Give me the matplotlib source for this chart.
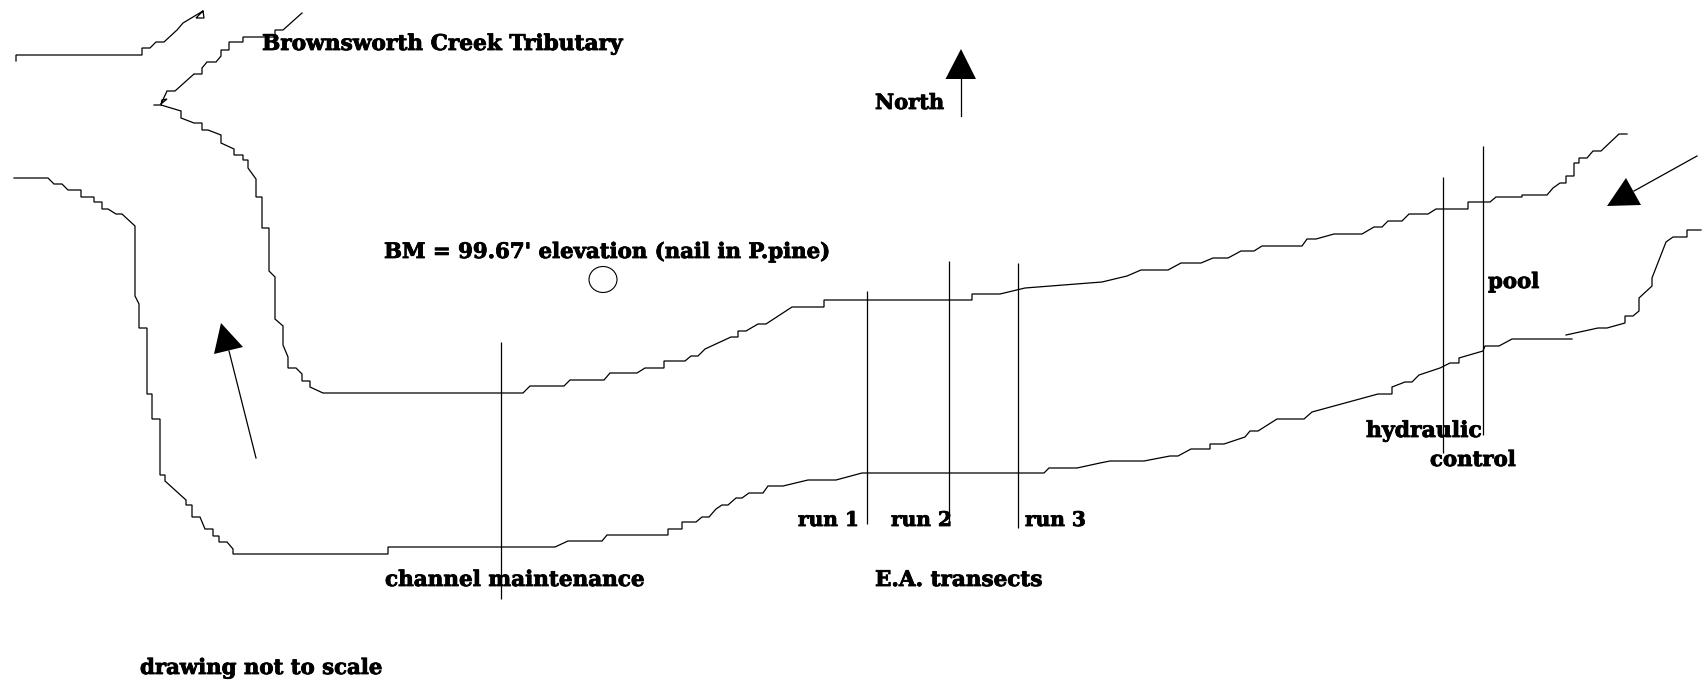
import matplotlib
import matplotlib.pyplot as plt
import matplotlib.patheffects as pe
from matplotlib.patches import Ellipse, Polygon
matplotlib.use('agg')

# everything in image pixels
tributary_north_x = [16, 16, 142, 142, 150, 156, 164, 177, 183, 203, 204, 196, 203]
tributary_north_y = [61, 55, 55, 48, 48, 42, 42, 30, 23, 11, 18, 18, 11]

tributary_south_x = [302, 283, 275, 275, 243, 243, 229, 229, 221, 221, 216, 207, 202, 202, 194, 175, 167, 161, 167, 162, 161]
tributary_south_y = [13, 30, 30, 37, 37, 42, 42, 50, 50, 56, 62, 62, 68, 74, 74, 91, 91, 104, 99, 100, 105]

north_bank_x = [154, 161, 181, 181, 194, 202, 202, 208, 221, 221, 234, 234, 243, 243, 248, 248, 256, 256, 262, 262, 269, 269, 275, 275, 283, 283, 288, 288,
                296, 302, 302, 310, 310, 323, 523, 530, 564, 570, 604, 610, 637, 645, 664, 664, 685, 691, 698, 705, 731, 738, 738, 746, 758, 766, 792, 824, 824,
                972, 972, 1000, 1025, 1102, 1127, 1141, 1168, 1181, 1201, 1213, 1228, 1241, 1254, 1262, 1302, 1307, 1316, 1334, 1362, 1374, 1382, 1388, 1402, 1409,
                1428, 1436, 1468, 1468, 1490, 1496, 1522, 1522, 1547, 1553, 1560, 1566, 1566, 1574, 1574, 1579, 1579, 1587, 1593, 1601, 1619, 1627]
north_bank_y = [105, 105, 111, 118, 123, 123, 130, 130, 135, 143, 149, 155, 155, 160, 160, 168, 179, 197, 197, 228, 228, 271, 277, 319, 326, 345, 357, 368,
                368, 374, 381, 381, 387, 393, 393, 386, 386, 380, 380, 373, 373, 368, 368, 361, 361, 356, 356, 349, 337, 337, 331, 331, 324, 324, 307, 307, 300,
                300, 294, 294, 288, 282, 276, 270, 270, 263, 263, 258, 258, 251, 251, 246, 246, 239, 239, 234, 234, 227, 227, 221, 221, 214,
                214, 209, 209, 202, 202, 197, 197, 195, 195, 188, 183, 183, 176, 176, 163, 163, 158, 158, 151, 151, 134, 134]

south_bank_x = [14, 48, 54, 62, 68, 81, 81, 94, 94, 102, 102, 108, 116, 122, 135, 135, 139, 139, 147, 147, 152, 152, 160, 160, 165, 165, 186, 186, 192, 192, 200, 205, 213, 213,
                219, 219, 227, 233, 233, 388, 388, 555, 568, 602, 607, 668, 668, 682, 682, 696, 702, 709, 716, 722, 728, 736, 742, 749, 763, 768, 783, 808, 836, 862,
                1044, 1049, 1077, 1100, 1110, 1144, 1170, 1178, 1191, 1210, 1210, 1224, 1245, 1250, 1258, 1277, 1304, 1312, 1378, 1392, 1392, 1405, 1412, 1419, 1440, 1450, 1459, 1459, 1483, 1485, 1499, 1512, 1572]
south_bank_y = [178, 178, 184, 184, 190, 190, 197, 197, 202, 202, 209, 209, 214, 214, 226, 296, 304, 328, 328, 394, 394, 419, 419, 475, 475, 481, 500, 505, 505, 517, 517, 529, 529, 536,
                536, 542, 542, 549, 554, 554, 547, 547, 541, 541, 535, 535, 529, 529, 522, 522, 517, 517, 509, 505, 505, 498, 498, 493, 493, 486, 486, 480, 480, 473,
                473, 468, 468, 463, 461, 461, 456, 456, 449, 449, 444, 444, 437, 431, 431, 419, 419, 412, 394, 394, 387, 382, 382, 375, 368, 363, 363, 358, 351, 346, 346, 339, 339]

south_bank2_x = [1566, 1598, 1607, 1625, 1625, 1633, 1639, 1639, 1652, 1652, 1666, 1673, 1687, 1687, 1701]
south_bank2_y = [335, 328, 328, 323, 316, 316, 311, 298, 286, 278, 242, 237, 237, 230, 230]

transect_x = [501, 867, 949, 1018, 1443, 1483]
transect_top = [342, 291, 261, 263, 177, 146]
transect_bottom = [599, 524, 525, 528, 453, 435]

# (stem start, stem end, triangle)
arrow_stems = [((961, 116), (961, 79)), ((256, 458), (229, 351)), ((1697, 156), (1634, 191))]
arrow_heads = [[(961, 49), (945.5, 79), (976, 79)],
               [(221, 323), (214, 354), (243, 347)],
               [(1626, 178), (1607, 206), (1641, 205)]]

labels = ['Brownsworth Creek Tributary', 'North', "BM = 99.67' elevation (nail in P.pine)",
          'pool', 'hydraulic', 'control', 'run 1', 'run 2', 'run 3',
          'channel maintenance', 'E.A. transects', 'drawing not to scale']
label_x = [262, 875, 384, 1488, 1366, 1430, 798, 891, 1025, 385, 875, 140]
label_y = [50, 109, 258, 288, 437, 466, 526, 526, 526, 586, 586, 674]
label_size = [15.6, 15.1, 15.3, 15.3, 15.8, 15.3, 14.5, 14.5, 14.5, 15.5, 15.5, 15.3]

LINE = '#000000'

fig = plt.figure(figsize=(17.02, 6.82), dpi=100)
ax = fig.add_axes([0, 0, 1, 1])
ax.set_xlim(0, 1702)
ax.set_ylim(682, 0)
ax.axis('off')

banks = [(tributary_north_x, tributary_north_y), (tributary_south_x, tributary_south_y),
         (north_bank_x, north_bank_y), (south_bank_x, south_bank_y), (south_bank2_x, south_bank2_y)]
for xs, ys in banks:
    ax.plot(xs, ys, color=LINE, lw=0.9, solid_joinstyle='miter')

ax.vlines(transect_x, transect_top, transect_bottom, color=LINE, lw=0.9)

for start, end in arrow_stems:
    ax.plot([start[0], end[0]], [start[1], end[1]], color=LINE, lw=0.9)
for head in arrow_heads:
    ax.add_patch(Polygon(head, closed=True, facecolor='black', edgecolor='none'))

ax.add_patch(Ellipse((603, 279.5), 28, 26, facecolor='none', edgecolor=LINE, lw=0.8))

# the original slab face is heavier than DejaVu Serif Bold, so thicken it a bit
for text, x, y, size in zip(labels, label_x, label_y, label_size):
    ax.text(x, y, text, family='DejaVu Serif', weight='bold', fontsize=size,
            color='black', ha='left', va='baseline',
            path_effects=[pe.withStroke(linewidth=0.6, foreground='black')])

plt.savefig('out.png', dpi=100)
plt.close(fig)
